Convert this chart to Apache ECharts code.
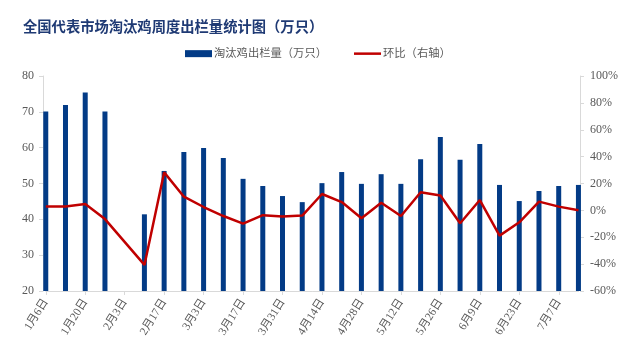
<!DOCTYPE html>
<html>
<head>
<meta charset="utf-8">
<script src="https://cdn.jsdelivr.net/npm/echarts@6/dist/echarts.min.js"></script>
<style>html,body{margin:0;padding:0;background:#fff;}#c{width:627px;height:352px;}</style>
</head>
<body>
<div id="c"></div>
<script>
const categories = ['1月6日','1月13日','1月20日','1月27日','2月3日','2月10日','2月17日','2月24日','3月3日','3月10日','3月17日','3月24日','3月31日','4月7日','4月14日','4月21日','4月28日','5月5日','5月12日','5月19日','5月26日','6月2日','6月9日','6月16日','6月23日','6月30日','7月7日','7月14日'];
const volume = [70.1,71.9,75.4,70.1,null,41.4,53.5,58.8,59.9,57.1,51.3,49.3,46.5,44.8,50.1,53.2,49.9,52.6,49.9,56.8,63.0,56.6,61.0,49.6,45.1,47.9,49.3,49.6];
const change = [2.8,2.8,4.8,-6.5,null,-40.6,28.3,10.2,2.5,-4.2,-9.9,-3.6,-4.6,-3.9,12.2,6.2,-5.9,5.7,-4.2,13.5,11.0,-9.6,7.7,-18.8,-8.9,6.5,2.8,0.1];
const leftTicks = {min:20,max:80,interval:10};
const rightTicks = {min:-60,max:100,interval:20};

const serif = "'Liberation Serif','Noto Sans CJK SC',serif";
const legendText = {fontFamily:serif,fontSize:11.3,color:'#595959',padding:[0,0,0,-3]};
const chart = echarts.init(document.getElementById('c'));
chart.setOption({
  animation:false,
  title:{text:'全国代表市场淘汰鸡周度出栏量统计图（万只）',left:18,top:14,
    textStyle:{fontFamily:"'Noto Sans CJK SC',sans-serif",fontSize:14.3,fontWeight:'bold',color:'#1F3A74'}},
  legend:[
    {left:180,top:43,itemWidth:27,itemHeight:7,icon:'rect',textStyle:legendText,
      data:[{name:'淘汰鸡出栏量（万只）'}]},
    {left:349,top:43,itemWidth:27,itemHeight:2.5,icon:'rect',textStyle:legendText,
      data:[{name:'环比（右轴）'}]}
  ],
  grid:[
    {left:45.8,right:48.5,top:76,bottom:61},
    {left:35.9,right:38.7,top:76,bottom:61}
  ],
  xAxis:[
    {type:'category',gridIndex:0,data:categories,boundaryGap:false,
      axisLine:{onZero:false,lineStyle:{color:'#D9D9D9'}},
      axisTick:{interval:1,length:4,lineStyle:{color:'#D9D9D9'}},
      axisLabel:{interval:1,rotate:58,fontFamily:serif,fontSize:11.5,color:'#595959',margin:9}},
    {type:'category',gridIndex:1,data:categories,boundaryGap:true,show:false}
  ],
  yAxis:[
    {type:'value',gridIndex:0,min:leftTicks.min,max:leftTicks.max,interval:leftTicks.interval,offset:2.8,
      splitLine:{show:false},
      axisLine:{show:true,lineStyle:{color:'#D9D9D9'}},
      axisTick:{show:true,length:4,lineStyle:{color:'#D9D9D9'}},
      axisLabel:{fontFamily:serif,fontSize:12,color:'#595959',margin:9}},
    {type:'value',gridIndex:0,min:rightTicks.min,max:rightTicks.max,interval:rightTicks.interval,offset:1.5,
      splitLine:{show:false},
      axisLine:{show:true,lineStyle:{color:'#D9D9D9'}},
      axisTick:{show:true,length:4,lineStyle:{color:'#D9D9D9'}},
      axisLabel:{fontFamily:serif,fontSize:12,color:'#595959',margin:10,formatter:'{value}%'}},
    {type:'value',gridIndex:1,min:leftTicks.min,max:leftTicks.max,interval:leftTicks.interval,show:false,
      splitLine:{show:false}}
  ],
  series:[
    {name:'淘汰鸡出栏量（万只）',type:'bar',xAxisIndex:1,yAxisIndex:2,data:volume,barWidth:5,
      itemStyle:{color:'#033B86'}},
    {name:'环比（右轴）',type:'line',xAxisIndex:0,yAxisIndex:1,data:change,connectNulls:true,
      symbol:'none',lineStyle:{color:'#C00000',width:2.5},itemStyle:{color:'#C00000'},z:5}
  ]
});
</script>
</body>
</html>
